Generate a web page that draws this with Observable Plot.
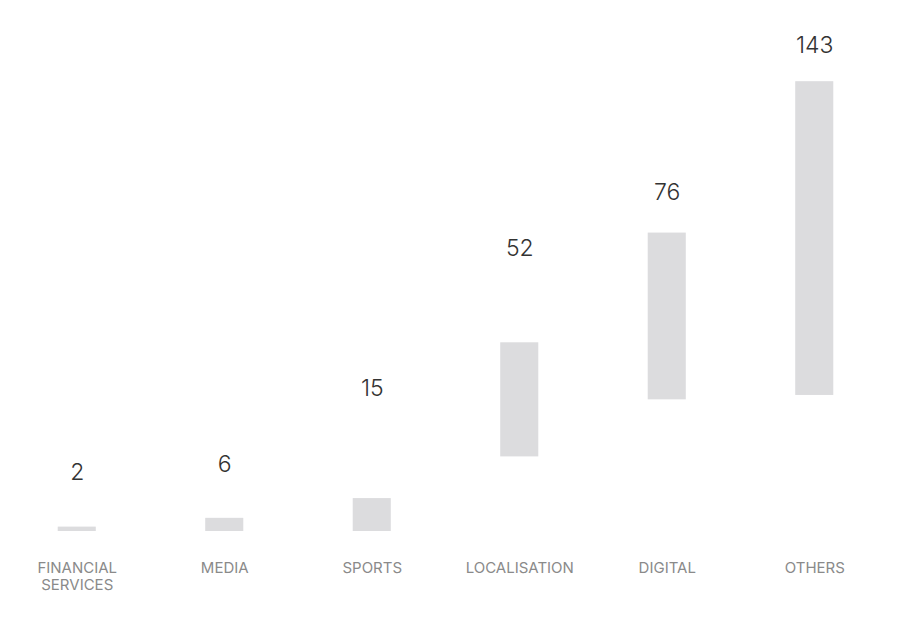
<!DOCTYPE html>
<html>
<head>
<meta charset="utf-8">
<script src="https://cdn.jsdelivr.net/npm/d3@7"></script>
<script src="https://cdn.jsdelivr.net/npm/@observablehq/plot@0.6"></script>
<style>
  html, body { margin: 0; padding: 0; background: #fff; }
  #chart svg { display: block; }
</style>
</head>
<body>
<div id="chart"></div>
<script>
// Sector categories and their axis labels
const categories = ["FINANCIAL SERVICES", "MEDIA", "SPORTS", "LOCALISATION", "DIGITAL", "OTHERS"];
const tickLabels = ["FINANCIAL\nSERVICES", "MEDIA", "SPORTS", "LOCALISATION", "DIGITAL", "OTHERS"];
// Count per sector (bar length) and where each floating bar starts
const values = [2, 6, 15, 52, 76, 143];
const starts = [0, 0, 0, 34, 60, 62];
// Height at which each value label sits
const labelAt = [27, 30.5, 65, 129, 154.5, 221.5];

const data = categories.map((c, i) => ({
  category: c,
  label: tickLabels[i],
  value: values[i],
  start: starts[i],
  end: starts[i] + values[i],
  labelY: labelAt[i]
}));

const chart = Plot.plot({
  width: 898,
  height: 635,
  marginTop: 0,
  marginBottom: 104,
  marginLeft: 3,
  marginRight: 10,
  style: { fontFamily: "Inter, 'Noto Sans', sans-serif", background: "#fff" },
  x: { domain: categories, paddingInner: 0.742, paddingOuter: 0.371, round: false, axis: null },
  y: { domain: [0, 242], axis: null },
  marks: [
    Plot.barY(data, { x: "category", y1: "start", y2: "end", fill: "#dcdcde" }),
    Plot.text(data, {
      x: "category", y: "labelY", text: d => String(d.value),
      fontSize: 23, fontWeight: 300, fill: "#333"
    }),
    Plot.text(data, {
      x: "category", y: 0, text: "label", dy: 30,
      lineAnchor: "top", lineHeight: 1.12,
      fontSize: 15, fill: "#8a8a8a"
    })
  ]
});

document.getElementById("chart").appendChild(chart);
</script>
</body>
</html>
